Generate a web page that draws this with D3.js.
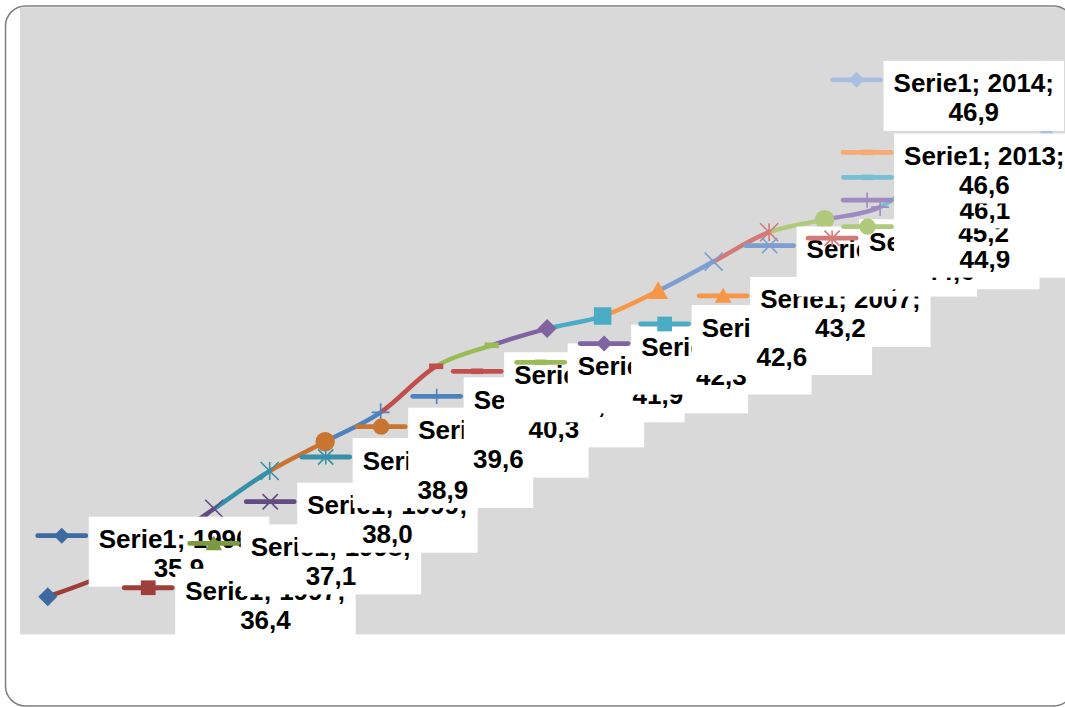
<!DOCTYPE html>
<html>
<head>
<meta charset="utf-8">
<script src="https://cdn.jsdelivr.net/npm/d3@7"></script>
<style>
  html, body { margin: 0; padding: 0; background: #ffffff; }
  svg { display: block; }
</style>
</head>
<body>
<svg id="chart" width="1065" height="707"></svg>
<script>
// Series values by year
const seriesName = "Serie1";
const years  = [1996, 1997, 1998, 1999, 2000, 2001, 2002, 2003, 2004, 2005,
                2006, 2007, 2008, 2009, 2010, 2011, 2012, 2013, 2014];
const values = [35.9, 36.4, 37.1, 38.0, 38.9, 39.6, 40.3, 41.4, 41.9, 42.3,
                42.6, 43.2, 43.9, 44.6, 44.9, 45.2, 46.1, 46.6, 46.9];

// Per-point colours (varied by point) and the marker cycle
const pointColors = ["#3d6aa1", "#9f3f3c", "#7a9a42", "#634c84", "#3590a8", "#c97431",
                     "#4f81bd", "#c0504d", "#9bbb59", "#8064a2", "#4bacc6", "#f79646",
                     "#7e9dd0", "#d37a77", "#b0ca7c", "#9f8bc0", "#76bfd5", "#f9aa72",
                     "#a9bfe1"];
const markerCycle = ["diamond", "square", "triangle", "x", "star", "circle", "plus", "dash", "dash"];

// Where each data label's legend key sits, relative to its point
const labelShift = [[14, -61], [45, 12], [55, -3], [56, -7], [56, -14], [56, -15],
                    [56, -16], [41, 5], [49, 17], [57, 15], [62, 8], [65, 5],
                    [56, -16], [63, 6], [43, 7], [-13, -7], [-68, 8], [-124, 4],
                    [-190, -56]];

const svg = d3.select("#chart");
const W = 1065, H = 707;

// Chart frame (rounded) and plot area
const frame = { x: 5.5, y: 6, w: 1068, h: 700, r: 20 };
const plot = { left: 20, right: 1074.3, top: 6, bottom: 634.4 };

const defs = svg.append("defs");
defs.append("clipPath").attr("id", "frameClip")
  .append("rect")
  .attr("x", frame.x).attr("y", frame.y)
  .attr("width", frame.w).attr("height", frame.h)
  .attr("rx", frame.r).attr("ry", frame.r);

svg.append("rect")
  .attr("x", frame.x).attr("y", frame.y)
  .attr("width", frame.w).attr("height", frame.h)
  .attr("rx", frame.r).attr("ry", frame.r)
  .attr("fill", "#ffffff");

const inner = svg.append("g").attr("clip-path", "url(#frameClip)");

inner.append("rect")
  .attr("x", plot.left).attr("y", plot.top + 1.3)
  .attr("width", plot.right - plot.left)
  .attr("height", plot.bottom - plot.top - 1.3)
  .attr("fill", "#d9d9d9");

svg.append("rect")
  .attr("x", frame.x).attr("y", frame.y)
  .attr("width", frame.w).attr("height", frame.h)
  .attr("rx", frame.r).attr("ry", frame.r)
  .attr("fill", "none")
  .attr("stroke", "#7f7f7f")
  .attr("stroke-width", 1.5);

// Scales
const x = d3.scalePoint().domain(years).range([plot.left, plot.right]).padding(0.5);
const y = d3.scaleLinear().domain([35, 50]).range([plot.bottom, plot.top]);

const pts = years.map((yr, i) => [x(yr), y(values[i])]);
const n = pts.length;

// Smoothed line, one coloured segment per point (Catmull-Rom as cubic Bezier)
const lineG = inner.append("g");
for (let i = 1; i < n; i++) {
  const p0 = pts[Math.max(i - 2, 0)];
  const p1 = pts[i - 1];
  const p2 = pts[i];
  const p3 = pts[Math.min(i + 1, n - 1)];
  const c1 = [p1[0] + (p2[0] - p0[0]) / 6, p1[1] + (p2[1] - p0[1]) / 6];
  const c2 = [p2[0] - (p3[0] - p1[0]) / 6, p2[1] - (p3[1] - p1[1]) / 6];
  const path = d3.path();
  path.moveTo(p1[0], p1[1]);
  path.bezierCurveTo(c1[0], c1[1], c2[0], c2[1], p2[0], p2[1]);
  lineG.append("path")
    .attr("d", path.toString())
    .attr("fill", "none")
    .attr("stroke", pointColors[i])
    .attr("stroke-width", 4.5)
    .attr("stroke-linecap", "butt");
}

// Marker shapes
function drawMarker(g, type, cx, cy, s, color) {
  const h = s / 2;
  const m = g.append("g").attr("transform", `translate(${cx},${cy})`);
  if (type === "diamond") {
    m.append("path").attr("d", `M0,${-h}L${h},0L0,${h}L${-h},0Z`).attr("fill", color);
  } else if (type === "square") {
    const q = h * 0.92;
    m.append("rect").attr("x", -q).attr("y", -q).attr("width", 2 * q).attr("height", 2 * q).attr("fill", color);
  } else if (type === "triangle") {
    m.append("path").attr("d", `M0,${-h}L${h * 1.05},${h * 0.85}L${-h * 1.05},${h * 0.85}Z`).attr("fill", color);
  } else if (type === "circle") {
    m.append("circle").attr("r", h * 1.02).attr("fill", color);
  } else if (type === "x" || type === "star" || type === "plus") {
    const d = h * 0.95;
    let p = "";
    if (type !== "plus") p += `M${-d},${-d}L${d},${d}M${-d},${d}L${d},${-d}`;
    if (type === "star") p += `M0,${-d}L0,${d}`;
    if (type === "plus") p += `M0,${-d}L0,${d}M${-d},0L${d},0`;
    m.append("path").attr("d", p).attr("fill", "none").attr("stroke", color).attr("stroke-width", 1.6);
  } else if (type === "dash") {
    m.append("rect").attr("x", -h * 0.75).attr("y", -2.8).attr("width", h * 1.5).attr("height", 5.6).attr("fill", color);
  }
}

const markG = inner.append("g");
pts.forEach((p, i) => drawMarker(markG, markerCycle[i % markerCycle.length], p[0], p[1], 19, pointColors[i]));

// Data labels with legend keys, drawn in point order
const fmt = v => v.toFixed(1).replace(".", ",");
const labelG = inner.append("g")
  .attr("font-family", "'Liberation Sans', Arial, Helvetica, sans-serif")
  .attr("font-weight", "bold")
  .attr("font-size", 26)
  .attr("fill", "#000000");

pts.forEach((p, i) => {
  const kx = p[0] + labelShift[i][0];
  const ky = p[1] + labelShift[i][1];
  const g = labelG.append("g");
  const color = pointColors[i];

  g.append("line")
    .attr("x1", kx - 24).attr("x2", kx + 24)
    .attr("y1", ky).attr("y2", ky)
    .attr("stroke", color).attr("stroke-width", 4.8)
    .attr("stroke-linecap", "round");
  drawMarker(g, markerCycle[i % markerCycle.length], kx, ky, 16, color);

  const box = g.append("rect").attr("fill", "#ffffff");
  const t1 = g.append("text").attr("text-anchor", "middle")
    .text(`${seriesName}; ${years[i]};`);
  const t2 = g.append("text").attr("text-anchor", "middle")
    .text(fmt(values[i]));

  const tw = Math.max(t1.node().getComputedTextLength(), t2.node().getComputedTextLength());
  const bw = tw + 20;
  const left = kx + 27;
  const top = ky - 19;
  box.attr("x", left).attr("y", top).attr("width", bw).attr("height", 70);
  t1.attr("x", left + bw / 2).attr("y", ky + 12.5);
  t2.attr("x", left + bw / 2).attr("y", ky + 41.5);
});
</script>
</body>
</html>
